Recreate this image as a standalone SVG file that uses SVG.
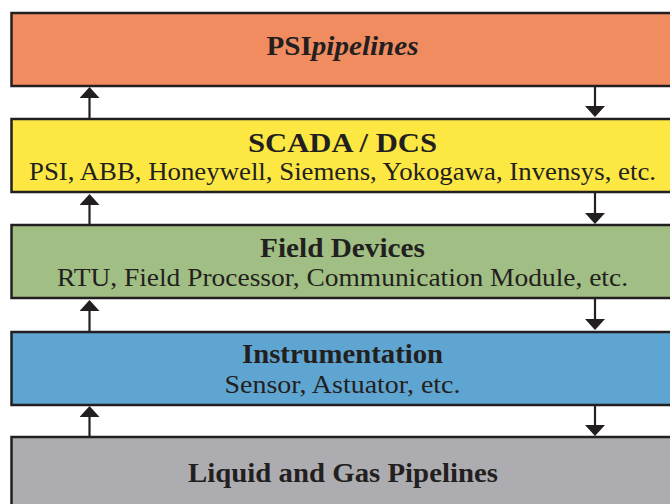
<svg xmlns="http://www.w3.org/2000/svg" width="670" height="504" viewBox="0 0 670 504">
<style>
.box{stroke:#231f20;stroke-width:2.5}
.t{font-family:"Liberation Serif","DejaVu Serif",serif;fill:#231f20;text-anchor:middle}
.h{font-weight:bold;font-size:27px}
.s{font-size:25px}
.c{stroke:#231f20;stroke-width:2.2;fill:none;marker-end:url(#ah)}
</style>
<defs>
<marker id="ah" viewBox="0 0 11 20" refX="0" refY="10" markerWidth="11" markerHeight="20" markerUnits="userSpaceOnUse" orient="auto">
<path d="M0,0 L11,10 L0,20 z" fill="#231f20"/>
</marker>
</defs>
<rect width="670" height="504" fill="#fff"/>
<g id="psi">
<rect class="box" x="11.5" y="13" width="665" height="73" fill="#f08c60"/>
<text class="t h" x="342.5" y="55" textLength="152" lengthAdjust="spacingAndGlyphs">PSI<tspan font-style="italic">pipelines</tspan></text>
</g>
<g id="scada">
<rect class="box" x="11.5" y="119" width="665" height="73" fill="#fde843"/>
<text class="t h" x="342.5" y="152" textLength="189" lengthAdjust="spacingAndGlyphs">SCADA / DCS</text>
<text class="t s" x="342.5" y="180" textLength="627" lengthAdjust="spacingAndGlyphs">PSI, ABB, Honeywell, Siemens, Yokogawa, Invensys, etc.</text>
</g>
<g id="field">
<rect class="box" x="11.5" y="225" width="665" height="73" fill="#a1bf84"/>
<text class="t h" x="342.5" y="257" textLength="165" lengthAdjust="spacingAndGlyphs">Field Devices</text>
<text class="t s" x="342.5" y="286" textLength="571" lengthAdjust="spacingAndGlyphs">RTU, Field Processor, Communication Module, etc.</text>
</g>
<g id="instr">
<rect class="box" x="11.5" y="332" width="665" height="73" fill="#5fa5d1"/>
<text class="t h" x="342.5" y="363" textLength="201" lengthAdjust="spacingAndGlyphs">Instrumentation</text>
<text class="t s" x="342.5" y="393" textLength="236" lengthAdjust="spacingAndGlyphs">Sensor, Astuator, etc.</text>
</g>
<g id="pipes">
<rect class="box" x="11.5" y="437" width="665" height="80" fill="#adadb1"/>
<text class="t h" x="343" y="482" textLength="310" lengthAdjust="spacingAndGlyphs">Liquid and Gas Pipelines</text>
</g>
<g id="connectors">
<path class="c" d="M89.5,118 V98"/>
<path class="c" d="M595,87 V106"/>
<path class="c" d="M89.5,224 V205"/>
<path class="c" d="M595,193 V213"/>
<path class="c" d="M89.5,331 V311"/>
<path class="c" d="M595,299 V319"/>
<path class="c" d="M89.5,436 V417"/>
<path class="c" d="M595,406 V425"/>
</g>
</svg>
